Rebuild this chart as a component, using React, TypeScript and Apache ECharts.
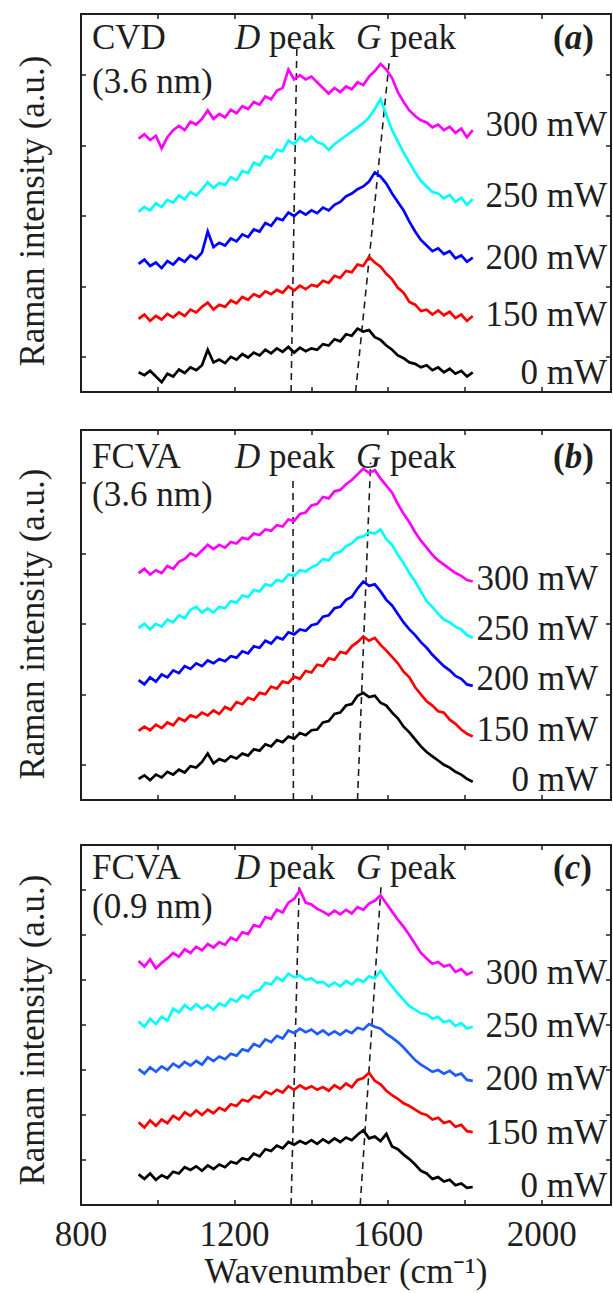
import React, { useEffect, useRef } from 'react';
import * as echarts from 'echarts';

// Wavenumber (cm^-1) sampling shared by every spectrum
const WAVENUMBER = [950, 965, 980, 995, 1010, 1025, 1040, 1055, 1070, 1085, 1100, 1115, 1130, 1145, 1160, 1175, 1190, 1205, 1220, 1235, 1250, 1265, 1280, 1295, 1310, 1325, 1340, 1355, 1370, 1385, 1400, 1415, 1430, 1445, 1460, 1475, 1490, 1505, 1520, 1535, 1550, 1565, 1580, 1595, 1610, 1625, 1640, 1655, 1670, 1685, 1700, 1715, 1730, 1745, 1760, 1775, 1790, 1805, 1820];

const POWER_LABELS = ['0 mW', '150 mW', '200 mW', '250 mW', '300 mW'];
const X_TICKS = [1000, 1200, 1400, 1600, 1800, 2000];
const X_TICK_LABELS = [800, 1200, 1600, 2000];

// (a) CVD 3.6 nm
const A_0MW = [28, 24, 30, 22, 14, 26, 22, 32, 27, 35, 31, 38, 60, 42, 46, 41, 50, 46, 54, 49, 56, 52, 60, 55, 62, 57, 64, 56, 63, 58, 62, 60, 68, 66, 75, 72, 82, 80, 90, 86, 88, 78, 74, 66, 60, 52, 48, 42, 40, 35, 38, 31, 35, 28, 33, 26, 30, 22, 28];
const A_150MW = [104, 110, 101, 108, 103, 111, 106, 113, 108, 117, 113, 121, 127, 117, 124, 121, 130, 126, 135, 131, 139, 135, 143, 139, 145, 141, 150, 144, 151, 146, 152, 150, 158, 155, 165, 162, 172, 170, 181, 179, 192, 184, 178, 168, 160, 148, 141, 128, 124, 115, 117, 110, 116, 109, 114, 105, 110, 101, 108];
const A_200MW = [182, 188, 179, 184, 176, 186, 181, 190, 185, 194, 189, 198, 228, 206, 212, 208, 218, 214, 224, 220, 231, 228, 240, 236, 247, 244, 255, 250, 257, 252, 258, 254, 262, 258, 266, 270, 278, 282, 288, 292, 299, 312, 306, 296, 282, 270, 258, 242, 228, 216, 208, 200, 204, 196, 200, 190, 194, 185, 191];
const A_250MW = [256, 263, 258, 268, 263, 273, 269, 279, 274, 284, 279, 288, 298, 290, 297, 294, 305, 301, 314, 311, 326, 322, 335, 332, 344, 342, 357, 352, 362, 356, 363, 355, 352, 344, 352, 358, 364, 370, 376, 382, 390, 402, 416, 394, 372, 356, 340, 326, 312, 300, 292, 284, 282, 275, 280, 270, 276, 266, 274];
const A_300MW = [360, 366, 358, 364, 346, 362, 372, 378, 372, 384, 380, 388, 400, 388, 395, 390, 401, 396, 406, 402, 412, 408, 420, 416, 428, 432, 458, 444, 450, 444, 448, 440, 432, 424, 432, 426, 434, 430, 440, 436, 448, 456, 466, 458, 446, 426, 412, 400, 392, 386, 383, 376, 380, 372, 377, 368, 374, 362, 372];

// (b) FCVA 3.6 nm
const B_0MW = [30, 35, 28, 36, 32, 40, 36, 43, 39, 48, 46, 54, 66, 52, 58, 55, 62, 59, 66, 63, 72, 70, 79, 76, 85, 82, 90, 87, 95, 92, 99, 100, 110, 112, 122, 124, 134, 136, 148, 152, 146, 148, 138, 134, 124, 116, 104, 96, 86, 76, 68, 62, 56, 50, 46, 40, 36, 30, 26];
const B_150MW = [98, 104, 99, 107, 102, 110, 106, 116, 112, 120, 117, 124, 120, 127, 122, 132, 128, 139, 136, 145, 142, 152, 150, 161, 158, 168, 166, 175, 172, 183, 181, 192, 190, 201, 199, 210, 208, 218, 224, 232, 226, 230, 220, 212, 203, 194, 182, 174, 160, 150, 140, 134, 126, 124, 114, 108, 100, 94, 90];
const B_200MW = [170, 164, 174, 168, 178, 174, 184, 180, 190, 186, 194, 190, 198, 194, 200, 197, 204, 202, 211, 208, 218, 216, 226, 222, 231, 228, 238, 235, 242, 240, 248, 250, 260, 262, 272, 274, 284, 288, 300, 310, 304, 306, 296, 284, 276, 264, 252, 242, 234, 224, 216, 206, 198, 190, 184, 176, 172, 164, 162];
const B_250MW = [244, 250, 242, 250, 246, 256, 252, 262, 258, 270, 274, 266, 272, 266, 274, 272, 282, 280, 290, 288, 298, 296, 306, 304, 312, 310, 320, 318, 326, 324, 330, 334, 342, 340, 350, 352, 360, 364, 372, 374, 380, 378, 384, 370, 362, 348, 336, 322, 310, 296, 282, 274, 264, 256, 252, 246, 242, 234, 230];
const B_300MW = [322, 328, 320, 326, 322, 332, 328, 338, 342, 350, 346, 354, 362, 356, 362, 358, 366, 364, 372, 370, 378, 376, 384, 382, 390, 388, 398, 396, 406, 408, 418, 420, 430, 428, 438, 440, 448, 454, 462, 470, 464, 468, 456, 446, 436, 420, 406, 394, 380, 368, 358, 348, 340, 334, 328, 322, 318, 312, 310];

// (c) FCVA 0.9 nm
const C_0MW = [68, 58, 70, 56, 66, 60, 74, 70, 84, 78, 86, 76, 88, 80, 90, 84, 96, 92, 104, 100, 114, 108, 124, 120, 132, 126, 140, 134, 142, 136, 144, 136, 146, 138, 148, 140, 150, 144, 156, 166, 148, 152, 142, 158, 130, 124, 112, 102, 90, 76, 70, 58, 62, 52, 56, 44, 48, 38, 40];
const C_150MW = [184, 172, 188, 176, 190, 182, 198, 190, 206, 198, 210, 200, 212, 204, 216, 210, 224, 220, 234, 230, 242, 238, 252, 246, 256, 250, 264, 256, 266, 258, 264, 256, 262, 254, 266, 258, 270, 262, 278, 282, 294, 276, 268, 254, 244, 236, 226, 220, 212, 204, 200, 190, 194, 182, 186, 174, 178, 164, 162];
const C_200MW = [302, 292, 306, 296, 308, 300, 314, 306, 318, 310, 320, 312, 328, 320, 330, 324, 336, 332, 346, 342, 358, 352, 368, 362, 376, 370, 388, 382, 392, 384, 390, 380, 388, 378, 386, 378, 388, 382, 394, 390, 402, 396, 392, 380, 372, 362, 350, 336, 322, 312, 304, 296, 300, 292, 298, 288, 292, 278, 276];
const C_250MW = [408, 396, 414, 402, 418, 410, 436, 428, 444, 434, 446, 436, 444, 434, 448, 442, 458, 452, 466, 460, 474, 478, 494, 490, 506, 498, 514, 506, 510, 500, 504, 494, 496, 486, 494, 486, 498, 490, 502, 496, 508, 504, 520, 502, 486, 470, 456, 442, 434, 426, 424, 414, 418, 406, 410, 398, 404, 392, 396];
const C_300MW = [542, 530, 546, 526, 538, 548, 560, 552, 568, 560, 574, 566, 580, 572, 584, 578, 594, 588, 606, 602, 622, 618, 640, 636, 656, 650, 672, 680, 700, 672, 668, 658, 652, 644, 654, 646, 656, 648, 662, 656, 670, 676, 688, 670, 652, 634, 618, 600, 580, 560, 548, 536, 540, 530, 534, 518, 524, 512, 518];

// peak-position guide lines [wavenumber, intensity]
const D_LINE_A = [[1347, 0], [1362, 490]];
const G_LINE_A = [[1515, 0], [1602, 467]];
const D_LINE_B = [[1353, 0], [1352, 459]];
const G_LINE_B = [[1520, 0], [1554, 479]];
const D_LINE_C = [[1347, 0], [1368, 706]];
const G_LINE_C = [[1527, 0], [1581, 706]];

const Y_TICKS_AB = [50, 150, 250, 350, 450];
const Y_TICKS_C = [100, 200, 300, 400, 500, 600, 700];

const SERIES_A = [A_0MW, A_150MW, A_200MW, A_250MW, A_300MW];
const SERIES_B = [B_0MW, B_150MW, B_200MW, B_250MW, B_300MW];
const SERIES_C = [C_0MW, C_150MW, C_200MW, C_250MW, C_300MW];

const FONT = '"Liberation Serif", "Times New Roman", serif';
const INK = '#1e1e1e';

export default function App() {
  const ref = useRef<HTMLDivElement>(null);

  useEffect(() => {
    if (!ref.current) return;
    const chart = echarts.init(ref.current, null, { renderer: 'svg' });

    const panels = [
      {
        grid: { top: 14, height: 378 }, ymax: 537, yticks: Y_TICKS_AB,
        data: SERIES_A, colors: ['#000000', '#ff0000', '#0000ff', '#00ffff', '#ff00ff'],
        dLine: D_LINE_A, gLine: G_LINE_A,
        sample: ['CVD', '(3.6 nm)'], tag: 'a',
        titleY: 37, subY: 81, labelX: 607, labelY: [372, 314, 257, 195, 124], nameY: 211,
      },
      {
        grid: { top: 430, height: 370 }, ymax: 525, yticks: Y_TICKS_AB,
        data: SERIES_B, colors: ['#000000', '#ff0000', '#0000ff', '#00ffff', '#ff00ff'],
        dLine: D_LINE_B, gLine: G_LINE_B,
        sample: ['FCVA', '(3.6 nm)'], tag: 'b',
        titleY: 456, subY: 494, labelX: 598, labelY: [779, 729, 678, 628, 578], nameY: 624,
      },
      {
        grid: { top: 845, height: 360 }, ymax: 800, yticks: Y_TICKS_C,
        data: SERIES_C, colors: ['#000000', '#ff0000', '#1f5cff', '#00ffff', '#ff00ff'],
        dLine: D_LINE_C, gLine: G_LINE_C,
        sample: ['FCVA', '(0.9 nm)'], tag: 'c',
        titleY: 867, subY: 906, labelX: 607, labelY: [1185, 1132, 1078, 1025, 972], nameY: 1030,
      },
    ];

    const grids: any[] = [];
    const xAxes: any[] = [];
    const yAxes: any[] = [];
    const series: any[] = [];
    const graphics: any[] = [];

    const axisLine = { show: true, onZero: false, lineStyle: { color: INK, width: 2 } };

    panels.forEach((p, i) => {
      grids.push({ left: 81, width: 530, top: p.grid.top, height: p.grid.height, outerBoundsMode: 'none' });
      const isLast = i === panels.length - 1;
      const xBase = { type: 'value', gridIndex: i, min: 800, max: 2180, interval: 200, splitLine: { show: false }, axisLine };
      xAxes.push({
        ...xBase, position: 'bottom',
        axisTick: { show: true, inside: true, length: 5, lineStyle: { color: INK, width: 1.5 }, customValues: X_TICKS },
        axisLabel: {
          show: isLast, customValues: X_TICK_LABELS, margin: 12,
          formatter: (v: number) => String(v),
          fontFamily: FONT, fontSize: 35, color: INK,
        },
      });
      xAxes.push({
        ...xBase, position: 'top',
        axisTick: { show: true, inside: true, length: 5, lineStyle: { color: INK, width: 1.5 }, customValues: X_TICKS },
        axisLabel: { show: false },
      });
      const yBase = { type: 'value', gridIndex: i, min: 0, max: p.ymax, splitLine: { show: false }, axisLine };
      yAxes.push({
        ...yBase, position: 'left',
        axisTick: { show: true, inside: true, length: 5, lineStyle: { color: INK, width: 1.5 }, customValues: p.yticks },
        axisLabel: { show: false },
      });
      yAxes.push({
        ...yBase, position: 'right',
        axisTick: { show: true, inside: true, length: 5, lineStyle: { color: INK, width: 1.5 }, customValues: p.yticks },
        axisLabel: { show: false },
      });

      [p.dLine, p.gLine].forEach((ln) => {
        series.push({
          type: 'line', xAxisIndex: 2 * i, yAxisIndex: 2 * i, data: ln,
          showSymbol: false, silent: true, z: 1,
          lineStyle: { color: INK, width: 1.6, type: [7, 5] },
        });
      });

      p.data.forEach((ys, k) => {
        series.push({
          type: 'line', name: `${p.tag} ${POWER_LABELS[k]}`,
          xAxisIndex: 2 * i, yAxisIndex: 2 * i,
          data: WAVENUMBER.map((x, j) => [x, ys[j]]),
          showSymbol: false, z: 2,
          lineStyle: { color: p.colors[k], width: 2.7, join: 'miter' },
        });
      });

      const txt = (text: string, x: number, y: number, extra: any = {}) => ({
        type: 'text', x, y, z: 10,
        style: { text, fontFamily: FONT, fontSize: 35, fill: INK, align: 'left', verticalAlign: 'middle', ...extra },
      });

      graphics.push(txt(p.sample[0], 92, p.titleY));
      graphics.push(txt(p.sample[1], 92, p.subY));
      const rich = {
        i: { fontFamily: FONT, fontSize: 35, fontStyle: 'italic', fill: INK },
        n: { fontFamily: FONT, fontSize: 35, fill: INK },
        b: { fontFamily: FONT, fontSize: 35, fontWeight: 'bold', fill: INK },
        bi: { fontFamily: FONT, fontSize: 35, fontWeight: 'bold', fontStyle: 'italic', fill: INK },
      };
      graphics.push(txt('{i|D}{n| peak}', 235, p.titleY, { rich }));
      graphics.push(txt('{i|G}{n| peak}', 356, p.titleY, { rich }));
      graphics.push(txt(`{b|(}{bi|${p.tag}}{b|)}`, 553, p.titleY, { rich }));
      POWER_LABELS.forEach((lab, k) => {
        graphics.push(txt(lab, p.labelX, p.labelY[k], { align: 'right' }));
      });
      graphics.push({
        type: 'text', x: 32, y: p.nameY, rotation: Math.PI / 2, z: 10,
        style: { text: 'Raman intensity (a.u.)', fontFamily: FONT, fontSize: 35, fill: INK, align: 'center', verticalAlign: 'middle' },
      });
    });

    graphics.push({
      type: 'text', x: 346, y: 1271, z: 10,
      style: { text: 'Wavenumber (cm\u207B\u00B9)', fontFamily: FONT, fontSize: 35, fill: INK, align: 'center', verticalAlign: 'middle' },
    });

    chart.setOption({
      animation: false,
      backgroundColor: '#ffffff',
      grid: grids,
      xAxis: xAxes,
      yAxis: yAxes,
      series,
      graphic: graphics,
    });

    return () => chart.dispose();
  }, []);

  return (
    <div
      ref={ref}
      style={{ position: 'absolute', left: 0, top: 0, width: 613, height: 1293, background: '#fff' }}
    />
  );
}
